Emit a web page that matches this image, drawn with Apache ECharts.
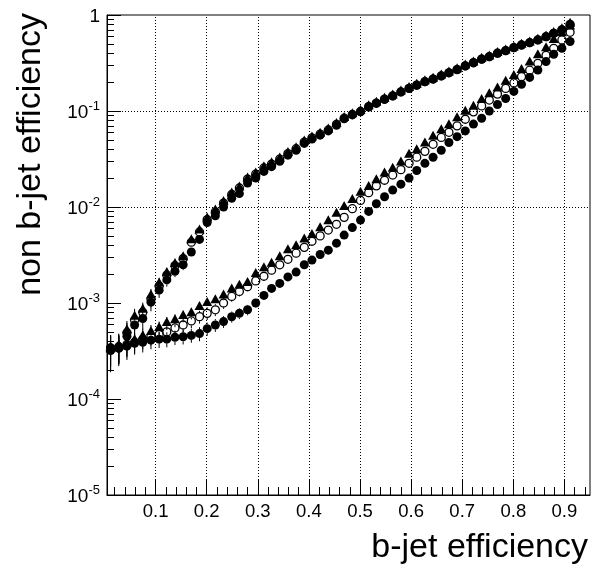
<!DOCTYPE html>
<html>
<head>
<meta charset="utf-8">
<script src="https://cdn.jsdelivr.net/npm/echarts@6/dist/echarts.min.js"></script>
<style>
  html, body { margin: 0; padding: 0; background: #fff; }
  #chart { width: 592px; height: 568px; }
</style>
</head>
<body>
<div id="chart"></div>
<script>
// b-jet efficiency (shared by all curves)
var xs = [0.012, 0.028, 0.044, 0.059, 0.075, 0.091, 0.107, 0.122, 0.138, 0.154,
          0.170, 0.186, 0.201, 0.217, 0.233, 0.249, 0.264, 0.280, 0.296, 0.312,
          0.327, 0.343, 0.359, 0.375, 0.391, 0.406, 0.422, 0.438, 0.454, 0.469,
          0.485, 0.501, 0.517, 0.532, 0.548, 0.564, 0.580, 0.596, 0.611, 0.627,
          0.643, 0.659, 0.674, 0.690, 0.706, 0.722, 0.738, 0.753, 0.769, 0.785,
          0.801, 0.816, 0.832, 0.848, 0.864, 0.879, 0.895, 0.911]

// lower band (light jets)
var lightFilled = [3.2e-4, 3.4e-4, 3.55e-4, 3.8e-4, 3.9e-4, 4.1e-4, 4.2e-4, 4.2e-4, 4.4e-4, 4.45e-4,
                   4.6e-4, 4.8e-4, 5.4e-4, 5.9e-4, 6.4e-4, 7.2e-4, 7.8e-4, 8.5e-4, 1.0e-3, 1.2e-3,
                   1.42e-3, 1.6e-3, 1.87e-3, 2.1e-3, 2.5e-3, 2.8e-3, 3.2e-3, 3.55e-3, 4.2e-3, 5.1e-3,
                   6.1e-3, 7.3e-3, 9.0e-3, 1.08e-2, 1.28e-2, 1.5e-2, 1.73e-2, 2.0e-2, 2.4e-2, 2.85e-2,
                   3.3e-2, 3.9e-2, 4.7e-2, 5.4e-2, 6.2e-2, 7.3e-2, 8.4e-2, 0.10, 0.117, 0.135,
                   0.16, 0.19, 0.224, 0.267, 0.327, 0.39, 0.45, 0.53]
var lightOpen = [3.3e-4, 3.4e-4, 3.7e-4, 3.9e-4, 4.2e-4, 4.5e-4, 4.7e-4, 5.0e-4, 5.5e-4, 5.9e-4,
                 6.5e-4, 7.2e-4, 7.8e-4, 8.5e-4, 1.0e-3, 1.17e-3, 1.32e-3, 1.48e-3, 1.7e-3, 1.9e-3,
                 2.2e-3, 2.5e-3, 2.85e-3, 3.3e-3, 3.8e-3, 4.4e-3, 5.0e-3, 5.75e-3, 6.6e-3, 7.8e-3,
                 9.6e-3, 1.17e-2, 1.41e-2, 1.66e-2, 1.9e-2, 2.15e-2, 2.45e-2, 2.85e-2, 3.3e-2, 3.8e-2,
                 4.5e-2, 5.3e-2, 6.0e-2, 7.0e-2, 8.2e-2, 9.8e-2, 0.113, 0.13, 0.15, 0.172,
                 0.196, 0.228, 0.266, 0.314, 0.38, 0.45, 0.55, 0.66]
var lightTri = [3.3e-4, 3.5e-4, 3.8e-4, 4.1e-4, 4.5e-4, 5.0e-4, 5.5e-4, 6.2e-4, 6.6e-4, 7.3e-4,
                7.8e-4, 9.1e-4, 1.0e-3, 1.07e-3, 1.2e-3, 1.38e-3, 1.51e-3, 1.62e-3, 2.0e-3, 2.3e-3,
                2.57e-3, 3.0e-3, 3.55e-3, 3.9e-3, 4.6e-3, 5.1e-3, 6.0e-3, 7.1e-3, 8.5e-3, 1.0e-2,
                1.18e-2, 1.41e-2, 1.62e-2, 1.9e-2, 2.24e-2, 2.5e-2, 2.9e-2, 3.5e-2, 3.9e-2, 4.6e-2,
                5.4e-2, 6.3e-2, 7.1e-2, 8.4e-2, 9.8e-2, 0.111, 0.13, 0.149, 0.172, 0.202,
                0.232, 0.267, 0.32, 0.38, 0.45, 0.55, 0.645, 0.76]

// upper band (charm jets)
var charmFilled = [3.4e-4, 3.4e-4, 4.5e-4, 5.9e-4, 6.9e-4, 1.02e-3, 1.36e-3, 1.74e-3, 2.14e-3, 2.5e-3,
                   3.4e-3, 4.6e-3, 6.9e-3, 8.1e-3, 1.0e-2, 1.23e-2, 1.38e-2, 1.78e-2, 2.0e-2, 2.35e-2,
                   2.63e-2, 3.0e-2, 3.47e-2, 3.9e-2, 4.6e-2, 5.1e-2, 5.6e-2, 6.2e-2, 7.1e-2, 8.3e-2,
                   9.1e-2, 9.8e-2, 0.11, 0.12, 0.132, 0.143, 0.158, 0.172, 0.186, 0.202,
                   0.215, 0.232, 0.25, 0.27, 0.295, 0.318, 0.347, 0.368, 0.40, 0.425,
                   0.457, 0.487, 0.515, 0.55, 0.594, 0.645, 0.70, 0.79]
var charmOpen = [3.4e-4, 3.5e-4, 4.9e-4, 6.6e-4, 8.0e-4, 1.1e-3, 1.5e-3, 1.95e-3, 2.45e-3, 2.9e-3,
                 4.3e-3, 5.5e-3, 7.4e-3, 8.9e-3, 1.1e-2, 1.35e-2, 1.58e-2, 1.95e-2, 2.2e-2, 2.55e-2,
                 2.8e-2, 3.15e-2, 3.6e-2, 4.05e-2, 4.75e-2, 5.25e-2, 5.75e-2, 6.35e-2, 7.25e-2, 8.4e-2,
                 9.2e-2, 9.9e-2, 0.111, 0.121, 0.133, 0.144, 0.158, 0.172, 0.186, 0.202,
                 0.215, 0.232, 0.25, 0.27, 0.295, 0.318, 0.347, 0.368, 0.40, 0.425,
                 0.457, 0.487, 0.515, 0.55, 0.594, 0.645, 0.70, 0.80]
var charmTri = [3.4e-4, 3.6e-4, 5.2e-4, 7.2e-4, 8.5e-4, 1.2e-3, 1.6e-3, 2.05e-3, 2.55e-3, 3.0e-3,
                4.5e-3, 5.7e-3, 7.6e-3, 9.2e-3, 1.13e-2, 1.38e-2, 1.6e-2, 1.98e-2, 2.23e-2, 2.6e-2,
                2.85e-2, 3.2e-2, 3.65e-2, 4.1e-2, 4.8e-2, 5.3e-2, 5.8e-2, 6.4e-2, 7.3e-2, 8.45e-2,
                9.25e-2, 0.1, 0.112, 0.122, 0.134, 0.145, 0.16, 0.174, 0.188, 0.204,
                0.217, 0.234, 0.252, 0.272, 0.297, 0.32, 0.35, 0.37, 0.402, 0.428,
                0.46, 0.49, 0.518, 0.553, 0.597, 0.65, 0.71, 0.81]

// statistical errors on the first points (the rest are hidden by the markers)
var lightFilledErr = [1.3e-4, 1.1e-4, 1.0e-4, 0.9e-4, 0.85e-4, 0.8e-4, 0.8e-4, 0.75e-4, 0.75e-4, 0.75e-4,
                      0.75e-4, 0.8e-4, 0.85e-4, 0.9e-4, 0.9e-4, 0.95e-4, 1.0e-4, 1.05e-4, 1.1e-4, 1.2e-4]
var lightErr = [1.3e-4, 1.1e-4, 1.0e-4, 0.95e-4, 0.9e-4, 0.9e-4, 0.9e-4, 0.95e-4, 1.0e-4, 1.0e-4,
                1.05e-4, 1.1e-4, 1.15e-4, 1.2e-4, 1.3e-4, 1.4e-4, 1.5e-4, 1.6e-4, 1.7e-4, 1.8e-4]
var charmErr = [1.2e-4, 1.2e-4, 1.3e-4, 1.5e-4, 1.6e-4, 2.0e-4, 2.3e-4, 2.6e-4, 2.8e-4, 3.0e-4,
                3.5e-4, 4.0e-4, 4.8e-4, 5.2e-4]

var xTicks = [0.1, 0.2, 0.3, 0.4, 0.5, 0.6, 0.7, 0.8, 0.9]
var yDecades = [1e-5, 1e-4, 1e-3, 1e-2, 1e-1, 1]

var xMinor = []
for (var i = 1; i <= 47; i++) {
    if (i % 5 !== 0) xMinor.push(Math.round(i * 2) / 100)
}
var yMinor = []
for (var d = -5; d < 0; d++) {
    for (var k = 2; k <= 9; k++) yMinor.push(k * Math.pow(10, d))
}

var FONT = 'Liberation Sans'
var R = 4.5   // marker radius, error bars stop at the marker edge

function pairs(ys) {
    return xs.map(function (x, i) { return [x, ys[i]] })
}
function bars(ys, errs) {
    return errs.map(function (e, i) { return [xs[i], ys[i], e] })
}

var errData = [].concat(
    bars(lightFilled, lightFilledErr), bars(lightOpen, lightErr), bars(lightTri, lightErr),
    bars(charmFilled, charmErr), bars(charmOpen, charmErr), bars(charmTri, charmErr))

function errorBar(params, api) {
    var x = api.value(0), y = api.value(1), e = api.value(2)
    var c = api.coord([x, y])
    var top = api.coord([x, y + e])[1]
    var bot = api.coord([x, Math.max(y - e, 1e-5)])[1]
    var kids = []
    var st = { stroke: '#000', lineWidth: 1 }
    if (top < c[1] - R) kids.push({ type: 'line', shape: { x1: c[0], y1: top, x2: c[0], y2: c[1] - R }, style: st })
    if (bot > c[1] + R) kids.push({ type: 'line', shape: { x1: c[0], y1: c[1] + R, x2: c[0], y2: bot }, style: st })
    return { type: 'group', children: kids }
}

function filled(name, ys) {
    return { name: name, type: 'scatter', data: pairs(ys), symbol: 'circle', symbolSize: 2 * R,
             itemStyle: { color: '#000', opacity: 1 }, z: 3 }
}
function open(name, ys) {
    return { name: name, type: 'scatter', data: pairs(ys), symbol: 'circle', symbolSize: 2 * R - 1,
             itemStyle: { color: 'rgba(0,0,0,0)', borderColor: '#000', borderWidth: 1.3, opacity: 1 }, z: 4 }
}
function tri(name, ys) {
    return { name: name, type: 'scatter', data: pairs(ys), symbol: 'triangle', symbolSize: [10, 9],
             symbolOffset: [0, -1.5], itemStyle: { color: '#000', opacity: 1 }, z: 5 }
}

var gridLines = xTicks.map(function (v) { return { xAxis: v } })
    .concat([1e-4, 1e-3, 1e-2, 1e-1].map(function (v) { return { yAxis: v } }))

var chart = echarts.init(document.getElementById('chart'))

var option = {
    animation: false,
    backgroundColor: '#fff',
    grid: { left: 107, right: 2, top: 15, bottom: 73, show: true, borderColor: '#000', borderWidth: 1 },
    xAxis: [
        {
            type: 'value', min: 0.005, max: 0.95,
            axisLine: { onZero: false, lineStyle: { color: '#000', width: 1 } },
            axisTick: { inside: true, length: 15, customValues: xTicks, lineStyle: { color: '#000' } },
            axisLabel: { customValues: xTicks, margin: 7, color: '#000', fontFamily: FONT, fontSize: 18.5,
                         formatter: function (v) { return v.toFixed(1) } },
            splitLine: { show: false }
        },
        {
            type: 'value', min: 0.005, max: 0.95, position: 'bottom',
            axisLine: { show: false },
            axisTick: { inside: true, length: 8, customValues: xMinor, lineStyle: { color: '#000' } },
            axisLabel: { show: false },
            splitLine: { show: false }
        }
    ],
    yAxis: [
        {
            type: 'log', logBase: 10, min: 1e-5, max: 1,
            axisLine: { onZero: false, lineStyle: { color: '#000', width: 1 } },
            axisTick: { inside: true, length: 14, customValues: yDecades, lineStyle: { color: '#000' } },
            axisLabel: {
                customValues: yDecades, margin: 7, color: '#000', fontFamily: FONT,
                formatter: function (v) {
                    var p = Math.round(Math.log(v) / Math.LN10)
                    if (p === 0) return '{b|1}'
                    return '{b|10}{s|' + p + '}'
                },
                rich: {
                    b: { fontFamily: FONT, fontSize: 19, lineHeight: 22, verticalAlign: 'bottom', color: '#000' },
                    s: { fontFamily: FONT, fontSize: 13, lineHeight: 12, verticalAlign: 'top', color: '#000' }
                }
            },
            splitLine: { show: false }
        },
        {
            type: 'log', logBase: 10, min: 1e-5, max: 1, position: 'left',
            axisLine: { show: false },
            axisTick: { inside: true, length: 7, customValues: yMinor, lineStyle: { color: '#000' } },
            axisLabel: { show: false },
            splitLine: { show: false }
        }
    ],
    graphic: [
        { type: 'text', x: 588, y: 548,
          style: { text: 'b-jet efficiency', align: 'right', verticalAlign: 'middle',
                   fontFamily: FONT, fontSize: 34, fill: '#000' } },
        { type: 'text', x: 31, y: 13, rotation: Math.PI / 2,
          style: { text: 'non b-jet efficiency', align: 'right', verticalAlign: 'middle',
                   fontFamily: FONT, fontSize: 34, fill: '#000' } }
    ],
    series: [
        {
            name: 'grid', type: 'line', data: [], z: 1, silent: true,
            markLine: {
                silent: true, symbol: ['none', 'none'], label: { show: false },
                lineStyle: { color: '#000', type: [1, 2], width: 1 },
                emphasis: { disabled: true },
                data: gridLines
            }
        },
        { name: 'errors', type: 'custom', data: errData, renderItem: errorBar, encode: { x: 0, y: 1 }, z: 2, silent: true },
        filled('light, filled circles', lightFilled),
        filled('charm, filled circles', charmFilled),
        open('light, open circles', lightOpen),
        open('charm, open circles', charmOpen),
        tri('light, triangles', lightTri),
        tri('charm, triangles', charmTri)
    ]
}

chart.setOption(option)
</script>
</body>
</html>
